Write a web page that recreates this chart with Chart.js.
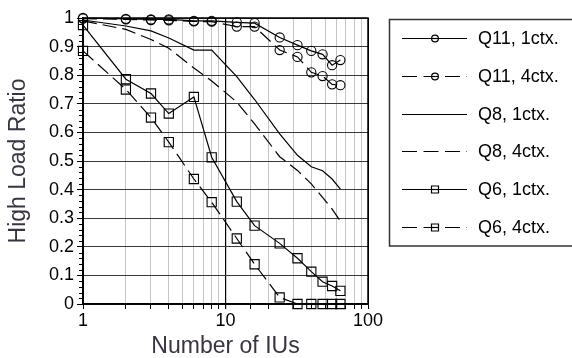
<!DOCTYPE html>
<html>
<head>
<meta charset="utf-8">
<script src="https://cdn.jsdelivr.net/npm/chart.js@4/dist/chart.umd.min.js"></script>
<style>
  body { margin: 0; background: #fff; }
  #wrap { width: 572px; height: 358px; }
</style>
</head>
<body>
<div id="wrap"><canvas id="myChart" width="572" height="358"></canvas></div>
<script>
// number of IUs
const ius = [1, 2, 3, 4, 6, 8, 12, 16, 24, 32, 40, 48, 56, 64];
// high load ratio per series
const q11_1 = [1.0, 0.997, 0.995, 0.995, 0.99, 0.99, 0.985, 0.982, 0.932, 0.905, 0.885, 0.873, 0.835, 0.853];
const q11_4 = [0.998, 0.995, 0.993, 0.992, 0.988, 0.987, 0.97, 0.97, 0.888, 0.864, 0.81, 0.797, 0.768, 0.765];
const q8_1 = [0.993, 0.972, 0.955, 0.93, 0.888, 0.888, 0.795, 0.715, 0.595, 0.52, 0.48, 0.466, 0.437, 0.402];
const q8_4 = [0.99, 0.96, 0.925, 0.894, 0.825, 0.78, 0.706, 0.63, 0.515, 0.467, 0.42, 0.373, 0.332, 0.29];
const q6_1 = [0.975, 0.786, 0.736, 0.666, 0.724, 0.513, 0.358, 0.274, 0.212, 0.16, 0.113, 0.078, 0.063, 0.046];
const q6_4 = [0.885, 0.75, 0.652, 0.566, 0.437, 0.356, 0.229, 0.139, 0.023, 0, 0, 0, 0, 0];
const labels = ["Q11, 1ctx.", "Q11, 4ctx.", "Q8, 1ctx.", "Q8, 4ctx.", "Q6, 1ctx.", "Q6, 4ctx."];
const xTickLabels = [1, 10, 100];

const font = "'Liberation Sans', Arial, sans-serif";
const dash = [14, 6];

function pts(arr) {
	return arr.map((v, i) => ({ x: ius[i], y: v }));
}
function series(label, arr, marker, dashed) {
	return {
		label: label,
		data: pts(arr),
		borderColor: "#000",
		borderWidth: 1.2,
		borderDash: dashed ? dash : [],
		backgroundColor: "transparent",
		pointStyle: marker || "circle",
		pointRadius: marker ? (marker === "rect" ? 6.5 : 4.6) : 0,
		pointBorderColor: "#000",
		pointBorderWidth: 1.1,
		pointBackgroundColor: "transparent",
		tension: 0,
		clip: false,
	};
}

// legend box drawn to the right of the plot
const sideLegend = {
	id: "sideLegend",
	afterDraw(chart) {
		const ctx = chart.ctx;
		ctx.save();
		ctx.strokeStyle = "#333";
		ctx.lineWidth = 1.5;
		ctx.strokeRect(389.5, 19.5, 190, 226.5);
		ctx.font = "18px " + font;
		ctx.textBaseline = "middle";
		ctx.fillStyle = "#000";
		chart.data.datasets.forEach((ds, i) => {
			const y = Math.round(38 + i * 37.8) + 0.5;
			ctx.strokeStyle = "#000";
			ctx.lineWidth = 1.2;
			ctx.setLineDash(ds.borderDash.length ? [15, 6.5] : []);
			ctx.beginPath();
			ctx.moveTo(402, y);
			ctx.lineTo(467, y);
			ctx.stroke();
			ctx.setLineDash([]);
			if (ds.pointRadius > 0) {
				ctx.beginPath();
				ctx.fillStyle = "#fff";
				if (ds.pointStyle === "rect") {
					ctx.rect(431.5, y - 3.5, 7, 7);
				} else {
					ctx.arc(435, y, 3.4, 0, Math.PI * 2);
				}
				ctx.fill();
				ctx.stroke();
				ctx.beginPath();
				ctx.moveTo(431.5, y);
				ctx.lineTo(438.5, y);
				ctx.stroke();
				ctx.fillStyle = "#000";
			}
			ctx.fillText(ds.label, 478, y + 1);
		});
		ctx.restore();
	},
};

// plot frame and minor ticks on the y axis
const frame = {
	id: "frame",
	beforeDatasetsDraw(chart) {
		const ctx = chart.ctx;
		const a = chart.chartArea;
		const ys = chart.scales.y;
		ctx.save();
		ctx.strokeStyle = "#000";
		ctx.lineWidth = 1;
		for (let k = 0; k <= 50; k++) {
			if (k % 5 === 0) continue;
			const py = Math.round(ys.getPixelForValue(k / 50)) + 0.5;
			ctx.beginPath();
			ctx.moveTo(a.left - 4, py);
			ctx.lineTo(a.left, py);
			ctx.stroke();
		}
		ctx.lineWidth = 1.5;
		ctx.strokeRect(a.left, a.top, a.right - a.left, a.bottom - a.top);
		ctx.restore();
	},
};

const ctx = document.getElementById("myChart");
new Chart(ctx, {
	type: "line",
	data: {
		datasets: [
			series(labels[0], q11_1, "circle", false),
			series(labels[1], q11_4, "circle", true),
			series(labels[2], q8_1, null, false),
			series(labels[3], q8_4, null, true),
			series(labels[4], q6_1, "rect", false),
			series(labels[5], q6_4, "rect", true),
		],
	},
	options: {
		responsive: false,
		animation: false,
		devicePixelRatio: 1,
		layout: { padding: { top: 18, right: 204, left: 0, bottom: 0 } },
		plugins: {
			legend: { display: false },
			tooltip: { enabled: false },
		},
		scales: {
			x: {
				type: "logarithmic",
				min: 1,
				max: 100,
				afterFit: (s) => { s.height = 54; },
				border: { color: "#000", width: 1.5 },
				grid: {
					color: (c) => {
						const v = c.tick && c.tick.value;
						if (v === 1 || v === 10 || v === 100) return "#000";
						return "#c4c4c4";
					},
					lineWidth: (c) => (c.tick && c.tick.value === 10 ? 1.2 : 1),
					tickColor: "#000",
					tickLength: 5,
				},
				ticks: {
					autoSkip: false,
					maxRotation: 0,
					color: "#000",
					padding: 1,
					font: { family: font, size: 18 },
					callback: (v) => (xTickLabels.includes(v) ? String(v) : ""),
				},
				title: {
					display: true,
					text: "Number of IUs",
					color: "#3a3440",
					font: { family: font, size: 23, lineHeight: 1 },
					padding: { top: 0, bottom: 0 },
				},
			},
			y: {
				min: 0,
				max: 1,
				afterFit: (s) => { s.width = 83; },
				border: { color: "#000", width: 1.5 },
				grid: {
					color: "#3a3a3a",
					tickColor: "#000",
					tickLength: 6,
				},
				ticks: {
					stepSize: 0.1,
					color: "#000",
					padding: 3,
					font: { family: font, size: 18 },
					callback: (v) => String(Number(v.toFixed(1))),
				},
				title: {
					display: true,
					text: "High Load Ratio",
					color: "#3a3440",
					font: { family: font, size: 23, lineHeight: 1 },
					padding: { top: 7, bottom: 0 },
				},
			},
		},
	},
	plugins: [frame, sideLegend],
});
</script>
</body>
</html>
